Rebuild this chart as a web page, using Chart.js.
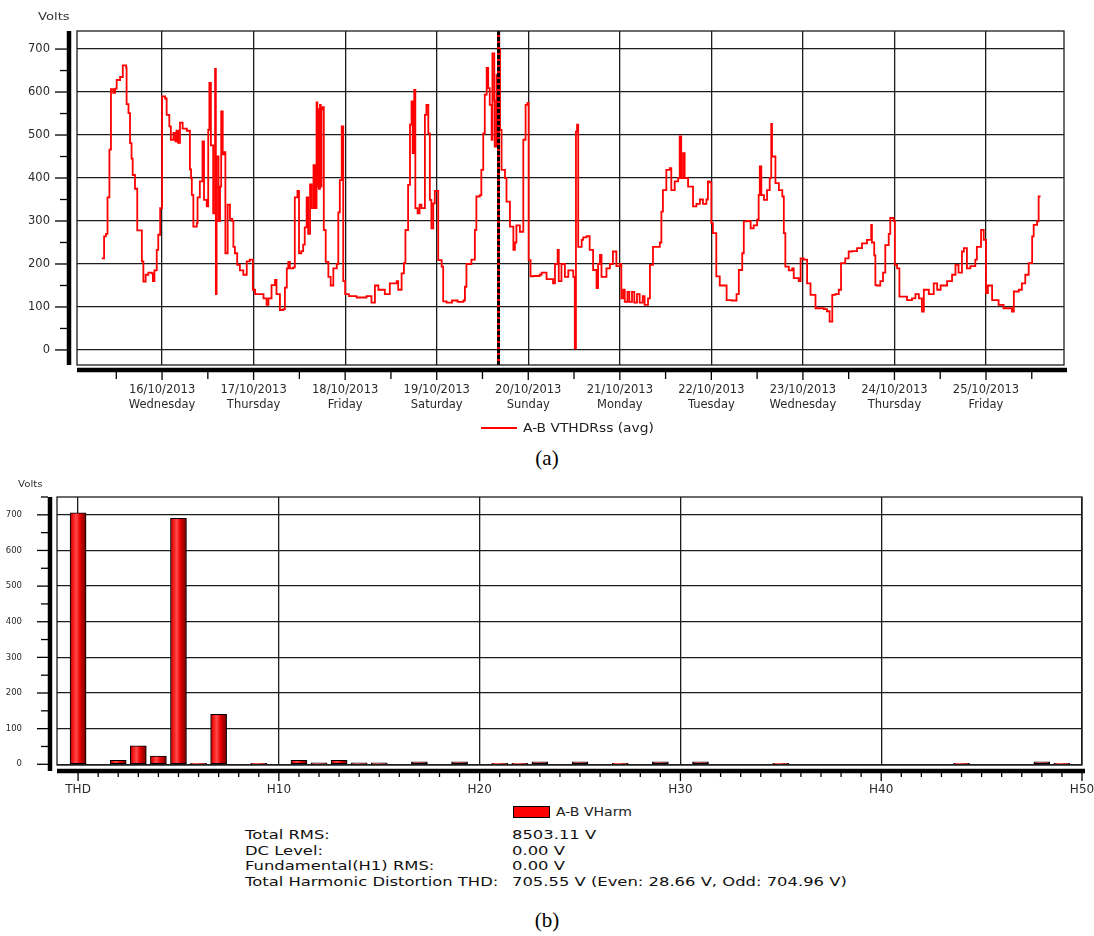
<!DOCTYPE html>
<html lang="en">
<head>
<meta charset="utf-8">
<title>A-B VTHDRss (avg) / A-B VHarm</title>
<script src="https://cdn.jsdelivr.net/npm/chart.js@4.4.1/dist/chart.umd.min.js"></script>
<style>
  html, body { margin: 0; padding: 0; background: #fff; }
  body { position: relative; width: 1094px; height: 936px; overflow: hidden;
         font-family: "DejaVu Sans", "Liberation Sans", sans-serif; color: #222; }
  canvas { position: absolute; left: 0; }
  #chartA { top: 0; }
  #chartB { top: 470px; }
  .volts { position: absolute; color: #333; transform-origin: 0 0; }
  .legend { position: absolute; font-size: 12px; line-height: 14px; color: #222; white-space: nowrap;
            transform-origin: 0 0; }
  .caption { position: absolute; left: 0; width: 1094px; text-align: center; line-height: 24px;
             font-family: "Liberation Serif", "DejaVu Serif", serif; font-size: 21px; color: #000; }
  .stats { position: absolute; top: 827px; font-size: 13px; line-height: 15.7px; color: #111; white-space: nowrap;
           transform: scaleX(1.26); transform-origin: 0 0; }
</style>
</head>
<body>

<canvas id="chartA" width="1094" height="440"></canvas>
<canvas id="chartB" width="1094" height="330"></canvas>

<div class="volts" style="left:38px; top:10px; font-size:10.5px; transform:scaleX(1.25);">Volts</div>
<div class="volts" style="left:18px; top:479px; font-size:8.5px; transform:scaleX(1.2);">Volts</div>

<!-- legend (a) -->
<div style="position:absolute; left:481px; top:427px; width:36px; height:1.6px; background:#ff0000;"></div>
<div class="legend" style="left:523px; top:421px; transform:scaleX(1.15);">A-B VTHDRss (avg)</div>
<div class="caption" style="top:446px;">(a)</div>

<!-- legend (b) -->
<div style="position:absolute; left:513px; top:806px; width:37px; height:12px; background:#ff0000; border:1px solid #000; box-sizing:border-box;"></div>
<div class="legend" style="left:556px; top:805px; transform:scaleX(1.17);">A-B VHarm</div>

<div class="stats" style="left:245px;">
  Total RMS:<br>DC Level:<br>Fundamental(H1) RMS:<br>Total Harmonic Distortion THD:
</div>
<div class="stats" style="left:512px;">
  8503.11 V<br>0.00 V<br>0.00 V<br>705.55 V (Even: 28.66 V, Odd: 704.96 V)
</div>
<div class="caption" style="top:908px;">(b)</div>

<script>
// ---- (a) A-B VTHDRss (avg), hours counted from 15/10/2013 00:00 ----
const hours = [
  8.2, 8.8, 9.3, 9.7, 10.2, 10.6, 11.2, 11.7, 12.1, 13.0,
  13.7, 14.6, 14.7, 15.2, 15.6, 16.0, 16.3, 16.9, 17.5, 18.7,
  19.1, 19.7, 20.4, 21.3, 21.6, 22.0, 22.6, 23.0, 23.5, 24.0,
  24.8, 25.2, 25.9, 26.3, 27.0, 27.5, 27.8, 28.2, 28.7, 29.4,
  30.5, 31.3, 31.6, 31.8, 32.2, 33.1, 33.3, 33.9, 34.6, 35.0,
  35.7, 36.1, 36.4, 36.8, 37.4, 37.9, 38.1, 38.3, 38.8, 39.2,
  39.5, 39.9, 40.2, 40.6, 41.2, 41.8, 42.4, 42.7, 43.1, 43.7,
  44.4, 45.3, 46.2, 47.0, 47.8, 48.4, 49.3, 50.6, 51.4, 51.9,
  52.7, 53.6, 54.0, 54.9, 55.8, 56.2, 56.7, 57.1, 57.5, 58.4,
  58.8, 59.5, 59.9, 60.5, 61.0, 61.4, 61.9, 62.3, 62.8, 63.2,
  63.7, 64.1, 64.5, 64.7, 64.9, 65.1, 65.4, 65.6, 65.8, 66.1,
  66.4, 66.9, 67.6, 68.2, 68.9, 69.8, 70.2, 70.6, 71.1, 71.5,
  72.0, 73.0, 75.0, 77.6, 78.9, 79.8, 80.7, 82.4, 83.7, 85.5,
  85.9, 86.8, 87.4, 87.8, 88.5, 89.0, 89.4, 89.7, 90.1, 90.4,
  91.0, 91.5, 92.0, 92.9, 93.3, 93.8, 94.2, 94.6, 95.1, 95.5,
  96.4, 97.3, 97.7, 98.6, 100.0, 101.5, 103.0, 103.4, 103.8, 105.1,
  106.0, 106.4, 107.3, 107.7, 108.2, 108.6, 109.1, 109.5, 109.9, 110.4,
  110.6, 111.1, 111.2, 111.7, 112.1, 112.4, 112.6, 113.0, 113.9, 114.3,
  115.2, 116.1, 116.5, 116.9, 117.8, 118.7, 119.3, 119.8, 120.1, 120.6,
  121.3, 123.0, 123.5, 124.8, 126.5, 127.0, 127.7, 128.0, 128.7, 129.6,
  130.5, 131.8, 132.2, 132.5, 132.8, 133.1, 134.0, 134.4, 135.3, 136.1,
  137.0, 137.9, 138.3, 138.8, 139.2, 140.5, 141.4, 142.2, 143.1, 144.0,
  144.4, 144.9, 145.3, 146.0, 146.5, 147.2, 147.8, 148.5, 149.2, 150.0,
  150.5, 151.4, 151.9, 152.7, 154.5, 154.9, 155.3, 156.2, 157.1, 157.5,
  158.4, 159.3, 159.7, 160.1, 160.6, 161.0, 161.9, 163.2, 164.1, 165.0,
  165.8, 166.7, 167.1, 167.6, 168.0, 168.4, 169.3, 170.2, 172.0, 173.3,
  174.6, 175.2, 176.1, 176.5, 177.4, 178.3, 179.1, 180.0, 180.4, 180.7,
  181.1, 181.8, 182.6, 183.3, 183.7, 183.9, 184.4, 184.8, 185.7, 186.6,
  187.0, 187.4, 188.3, 189.2, 189.6, 190.9, 191.4, 192.2, 193.1, 194.0,
  195.3, 197.5, 198.3, 199.0, 199.7, 200.5, 201.4, 202.0, 203.1, 204.0,
  204.9, 206.2, 207.5, 208.8, 209.9, 210.1, 210.7, 211.0, 211.4, 212.3,
  213.0, 213.6, 214.5, 214.9, 215.8, 216.1, 216.7, 217.3, 219.3, 220.6,
  221.5, 222.4, 223.2, 223.7, 225.0, 226.3, 227.2, 228.1, 229.8, 231.1,
  232.0, 232.8, 233.7, 234.2, 235.0, 235.9, 237.2, 237.6, 238.7, 239.4,
  240.0, 240.5, 241.6, 243.3, 244.6, 246.8, 247.3, 248.6, 249.4, 250.3,
  251.2, 252.1, 252.5, 253.4, 253.8, 254.3
];
const volts = [
  213, 264, 270, 355, 466, 607, 598, 608, 628, 635,
  662, 657, 572, 551, 481, 445, 407, 375, 278, 206,
  159, 175, 180, 178, 160, 185, 233, 268, 330, 590,
  585, 547, 520, 489, 505, 485, 510, 482, 529, 515,
  510, 420, 400, 361, 287, 295, 355, 392, 485, 349,
  334, 512, 621, 476, 318, 654, 130, 450, 300, 380,
  555, 455, 460, 225, 338, 305, 300, 240, 225, 198,
  185, 175, 206, 210, 140, 130, 130, 120, 105, 120,
  151, 163, 130, 93, 95, 145, 190, 205, 190, 192,
  355, 370, 225, 230, 245, 285, 355, 270, 385, 330,
  430, 330, 576, 380, 560, 375, 570, 380, 560, 565,
  279, 205, 170, 150, 190, 200, 320, 395, 520, 160,
  130, 125, 122, 125, 110, 150, 140, 130, 155, 160,
  140, 178, 202, 279, 384, 524, 578, 458, 605, 330,
  318, 338, 330, 547, 570, 504, 349, 283, 341, 370,
  209, 194, 113, 110, 115, 112, 115, 147, 200, 210,
  279, 357, 360, 419, 504, 594, 656, 609, 570, 489,
  690, 580, 473, 640, 740, 700, 512, 419, 400, 345,
  287, 233, 250, 290, 275, 489, 570, 575, 209, 171,
  172, 175, 180, 165, 155, 200, 233, 160, 200, 170,
  185, 170, 4, 508, 524, 240, 256, 262, 265, 233,
  186, 144, 200, 221, 170, 190, 200, 229, 195, 200,
  120, 140, 112, 135, 112, 135, 110, 130, 110, 125,
  105, 120, 198, 240, 250, 322, 372, 419, 423, 372,
  392, 400, 497, 400, 458, 400, 380, 334, 340, 350,
  340, 350, 392, 390, 295, 272, 171, 150, 116, 115,
  130, 186, 225, 299, 300, 283, 290, 303, 361, 427,
  360, 349, 372, 400, 526, 450, 450, 388, 372, 357,
  272, 194, 185, 190, 167, 160, 213, 210, 155, 128,
  97, 95, 90, 66, 128, 130, 140, 202, 213, 229,
  230, 237, 248, 256, 291, 250, 220, 151, 150, 160,
  180, 244, 270, 307, 300, 198, 190, 124, 116, 120,
  130, 120, 89, 140, 130, 155, 140, 150, 160, 175,
  198, 180, 229, 237, 190, 195, 210, 240, 279, 256,
  132, 150, 116, 105, 97, 89, 136, 140, 155, 175,
  202, 264, 291, 299, 357, 357
];
// day boundaries (hours) and their labels
const dayHours = [24, 48, 72, 96, 120, 144, 168, 192, 216, 240];
const dayDates = ['16/10/2013', '17/10/2013', '18/10/2013', '19/10/2013', '20/10/2013',
                  '21/10/2013', '22/10/2013', '23/10/2013', '24/10/2013', '25/10/2013'];
const dayNames = ['Wednesday', 'Thursday', 'Friday', 'Saturday', 'Sunday',
                  'Monday', 'Tuesday', 'Wednesday', 'Thursday', 'Friday'];
const voltTicks = [0, 100, 200, 300, 400, 500, 600, 700];
const markerHour = 112.2;   // dashed cursor line

// ---- (b) A-B VHarm spectrum: THD, H1 ... H50 ----
const harmLabels = ['THD'].concat(Array.from({ length: 50 }, (_, i) => 'H' + (i + 1)));
const harmValues = [
  705.55, 0, 11, 52, 23, 690, 3, 140, 0, 3,
  0, 11, 4, 11, 4, 4, 0, 7, 0, 7,
  0, 3, 3, 7, 0, 7, 0, 3, 0, 7,
  0, 7, 0, 0, 0, 3, 0, 0, 0, 0,
  0, 0, 0, 0, 3, 0, 0, 0, 7, 3,
  0
];
const harmTicks = [0, 10, 20, 30, 40, 50];

Chart.defaults.font.family = '"DejaVu Sans", "Liberation Sans", sans-serif';
Chart.defaults.font.size = 11.5;
Chart.defaults.color = '#2a2a2a';

const gridCol = '#1c1c1c';

// frame, thick axes with tick marks, and the cursor line
const frameAxes = {
  id: 'frameAxes',
  afterDatasetsDraw(chart, args, opts) {
    if (opts.marker == null) return;
    const { ctx, chartArea: a, scales: { x } } = chart;
    const px = x.getPixelForValue(opts.marker);
    ctx.save();
    ctx.lineWidth = 3;
    ctx.strokeStyle = '#ff0000';
    ctx.beginPath(); ctx.moveTo(px, a.top); ctx.lineTo(px, a.bottom); ctx.stroke();
    ctx.strokeStyle = '#000';
    ctx.setLineDash([4, 2]);
    ctx.beginPath(); ctx.moveTo(px, a.top); ctx.lineTo(px, a.bottom); ctx.stroke();
    ctx.restore();
  },
  afterDraw(chart, args, opts) {
    const { ctx, chartArea: a, scales: { x, y } } = chart;
    ctx.save();
    ctx.strokeStyle = gridCol;
    ctx.lineWidth = 1.3;
    ctx.strokeRect(a.left, a.top, a.right - a.left, a.bottom - a.top);

    // value axis
    ctx.strokeStyle = '#000';
    const ax = a.left - opts.yGap;
    ctx.lineWidth = 4.5;
    ctx.beginPath(); ctx.moveTo(ax, a.top); ctx.lineTo(ax, a.bottom + opts.yExtend); ctx.stroke();
    ctx.lineWidth = 1.3;
    for (let v = 0; v <= y.max; v += 50) {
      const py = y.getPixelForValue(v);
      const len = v % 100 === 0 ? opts.yMajorLen : opts.yMinorLen;
      ctx.beginPath(); ctx.moveTo(ax - len, py); ctx.lineTo(ax - 2, py); ctx.stroke();
    }

    // time / harmonic axis
    const ay = a.bottom + opts.xGap;
    ctx.lineWidth = 4.5;
    ctx.beginPath(); ctx.moveTo(a.left, ay); ctx.lineTo(a.right + 3, ay); ctx.stroke();
    ctx.lineWidth = 1.3;
    for (let v = opts.xStart; v <= x.max; v += opts.xMinor) {
      const px = x.getPixelForValue(v);
      const len = v % opts.xMajor === 0 ? opts.xMajorLen : opts.xMinorLen;
      ctx.beginPath(); ctx.moveTo(px, ay + 2); ctx.lineTo(px, ay + len); ctx.stroke();
    }
    ctx.restore();
  }
};

// (a) line chart
new Chart(document.getElementById('chartA'), {
  type: 'line',
  data: {
    datasets: [{
      label: 'A-B VTHDRss (avg)',
      data: hours.map((h, i) => ({ x: h, y: volts[i] })),
      borderColor: '#ff0000',
      borderWidth: 1.8,
      pointRadius: 0,
      stepped: true,
      fill: false
    }]
  },
  options: {
    responsive: false,
    animation: false,
    layout: { padding: { top: 31, right: 30, left: 0, bottom: 0 } },
    plugins: {
      legend: { display: false },
      tooltip: { enabled: false },
      frameAxes: { marker: markerHour, yGap: 8, yExtend: 0, yMajorLen: 14, yMinorLen: 9,
                   xGap: 5, xStart: 12, xMinor: 12, xMajor: 24, xMajorLen: 10, xMinorLen: 9 }
    },
    scales: {
      x: {
        type: 'linear', min: 1.7, max: 260.45,
        afterBuildTicks: ax => { ax.ticks = dayHours.map(v => ({ value: v })); },
        afterFit: ax => { ax.height = 75; ax.paddingLeft = 0; ax.paddingRight = 0; },
        grid: { color: gridCol, lineWidth: 1.3, drawTicks: false },
        border: { display: false },
        ticks: {
          autoSkip: false, maxRotation: 0, padding: 17.5,
          font: { size: 11.5, lineHeight: 1.3 },
          callback: v => { const i = dayHours.indexOf(v); return [dayDates[i], dayNames[i]]; }
        }
      },
      y: {
        min: -35, max: 742,
        afterBuildTicks: ax => { ax.ticks = voltTicks.map(v => ({ value: v })); },
        afterFit: ax => { ax.width = 77; ax.paddingTop = 0; ax.paddingBottom = 0; },
        grid: { color: gridCol, lineWidth: 1.3, drawTicks: false },
        border: { display: false },
        ticks: { padding: 27, font: { size: 11.5 } }
      }
    }
  },
  plugins: [frameAxes]
});

// cylinder-like shading for the bars
const barWidth = 16;
function barFill(context) {
  const chart = context.chart;
  if (!chart.chartArea || !chart.scales.x) return '#e00000';
  const cx = chart.scales.x.getPixelForValue(context.dataIndex);
  const g = chart.ctx.createLinearGradient(cx - barWidth / 2, 0, cx + barWidth / 2, 0);
  g.addColorStop(0, '#a00000');
  g.addColorStop(0.2, '#ff1a1a');
  g.addColorStop(0.38, '#ff4a4a');
  g.addColorStop(0.62, '#e80000');
  g.addColorStop(1, '#6a0000');
  return g;
}

// (b) harmonic bar chart
new Chart(document.getElementById('chartB'), {
  type: 'bar',
  data: {
    datasets: [{
      label: 'A-B VHarm',
      data: harmValues.map((v, i) => ({ x: i, y: v })),
      backgroundColor: barFill,
      borderColor: '#000',
      borderWidth: 1,
      borderSkipped: false,
      barThickness: barWidth
    }]
  },
  options: {
    responsive: false,
    animation: false,
    layout: { padding: { top: 27, right: 12, left: 0, bottom: 0 } },
    plugins: {
      legend: { display: false },
      tooltip: { enabled: false },
      frameAxes: { marker: null, yGap: 7, yExtend: 6, yMajorLen: 13, yMinorLen: 9,
                   xGap: 6, xStart: 0, xMinor: 1, xMajor: 10, xMajorLen: 10, xMinorLen: 6 }
    },
    scales: {
      x: {
        type: 'linear', min: -1.05, max: 50, offset: false,
        afterBuildTicks: ax => { ax.ticks = harmTicks.map(v => ({ value: v })); },
        afterFit: ax => { ax.height = 35; ax.paddingLeft = 0; ax.paddingRight = 0; },
        grid: { color: gridCol, lineWidth: 1.3, drawTicks: false, offset: false },
        border: { display: false },
        ticks: { autoSkip: false, maxRotation: 0, padding: 18, font: { size: 12 },
                 callback: v => harmLabels[v] }
      },
      y: {
        min: -2, max: 750,
        afterBuildTicks: ax => { ax.ticks = voltTicks.map(v => ({ value: v })); },
        afterFit: ax => { ax.width = 57; ax.paddingTop = 0; ax.paddingBottom = 0; },
        grid: { color: gridCol, lineWidth: 1.3, drawTicks: false },
        border: { display: false },
        ticks: { padding: 35, font: { size: 8.5 } }
      }
    }
  },
  plugins: [frameAxes]
});
</script>
</body>
</html>
